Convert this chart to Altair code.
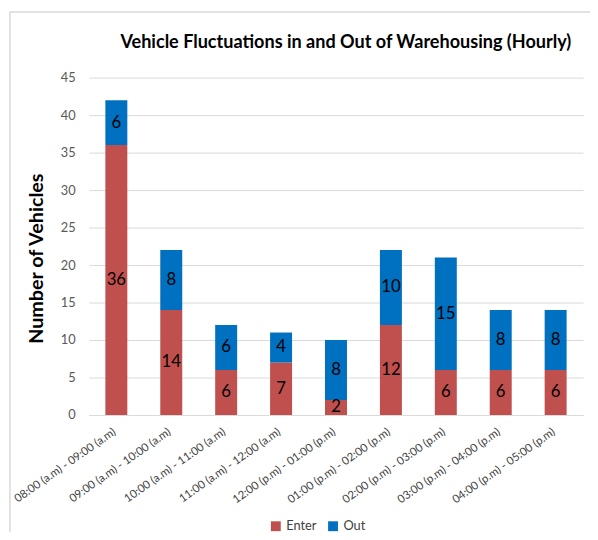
import altair as alt
import pandas as pd

hours = [
    "08:00 (a.m) - 09:00 (a.m)",
    "09:00 (a.m)  - 10:00 (a.m)",
    "10:00 (a.m) - 11:00 (a.m)",
    "11:00 (a.m) - 12:00 (a.m)",
    "12:00 (p.m) - 01:00 (p.m)",
    "01:00 (p.m) - 02:00 (p.m)",
    "02:00 (p.m) - 03:00 (p.m)",
    "03:00 (p.m) - 04:00 (p.m)",
    "04:00 (p.m) - 05:00 (p.m)",
]
enter = [36, 14, 6, 7, 2, 12, 6, 6, 6]
out = [6, 8, 6, 4, 8, 10, 15, 8, 8]
series = ["Enter", "Out"]
colors = ["#C0504D", "#0070C0"]
yticks = [0, 5, 10, 15, 20, 25, 30, 35, 40, 45]

rows = []
for i, h in enumerate(hours):
    rows.append({"hour": h, "type": "Enter", "ord": 0, "value": enter[i]})
    rows.append({"hour": h, "type": "Out", "ord": 1, "value": out[i]})
df = pd.DataFrame(rows)

FONT = "Lato"

base = alt.Chart(df).transform_stack(
    stack="value", groupby=["hour"], as_=["v0", "v1"],
    sort=[alt.SortField("ord", order="ascending")]
).transform_calculate(mid="(datum.v0 + datum.v1) / 2")

yscale = alt.Scale(domain=[0, 45], nice=False)
xscale = alt.Scale(paddingInner=0.6, paddingOuter=0.3)

xaxis = alt.Axis(labelAngle=-35, labelFontSize=11.5, labelColor="#404040",
                 labelFont=FONT, ticks=False, domainColor="#D9D9D9",
                 labelPadding=11, labelOffset=-5, labelLimit=300)
yaxis = alt.Axis(values=yticks, title="Number of Vehicles",
                 titleFont=FONT, titleFontSize=20, titleFontWeight="bold",
                 titleColor="#000000", titleX=-53, titleY=183,
                 titleAngle=-90, titleBaseline="middle", titleAlign="center",
                 labelFont=FONT, labelFontSize=13, labelColor="#595959",
                 labelPadding=14, ticks=False, domain=False,
                 gridColor="#D9D9D9", gridWidth=1)

bars = base.mark_bar().encode(
    x=alt.X("hour:N", sort=hours, title=None, scale=xscale, axis=xaxis),
    y=alt.Y("v0:Q", scale=yscale, axis=yaxis),
    y2="v1:Q",
    color=alt.Color("type:N", scale=alt.Scale(domain=series, range=colors),
                    legend=alt.Legend(title=None, orient="none", direction="horizontal",
                                      legendX=183, legendY=448, symbolType="square",
                                      symbolSize=100, labelFont=FONT, labelFontSize=13,
                                      labelColor="#404040", columnPadding=10,
                                      symbolStrokeWidth=0)),
)

labels = base.mark_text(font=FONT, fontSize=17, color="#000000", baseline="middle").encode(
    x=alt.X("hour:N", sort=hours, title=None, scale=xscale, axis=xaxis),
    y=alt.Y("mid:Q", scale=yscale, axis=yaxis),
    text=alt.Text("value:Q"),
)

frame = alt.Chart(pd.DataFrame({"a": [0]})).mark_rect(
    fill=None, stroke="#D9D9D9", strokeWidth=1.5, clip=False
).encode(x=alt.value(-80), x2=alt.value(530), y=alt.value(-66.5), y2=alt.value(480))

chart = alt.layer(frame, bars, labels).properties(
    width=501, height=342,
    title=alt.TitleParams("Vehicle Fluctuations in and Out of Warehousing (Hourly)",
                          font=FONT, fontSize=18.3, fontWeight="bold", color="#000000",
                          anchor="middle", dx=10, offset=0, dy=42),
    autosize=alt.AutoSizeParams(type="none"),
    padding={"left": 82, "top": 67, "right": 7, "bottom": 115},
).configure_view(stroke=None)

chart.save("out.html", embed_options={"renderer": "svg", "actions": False})
